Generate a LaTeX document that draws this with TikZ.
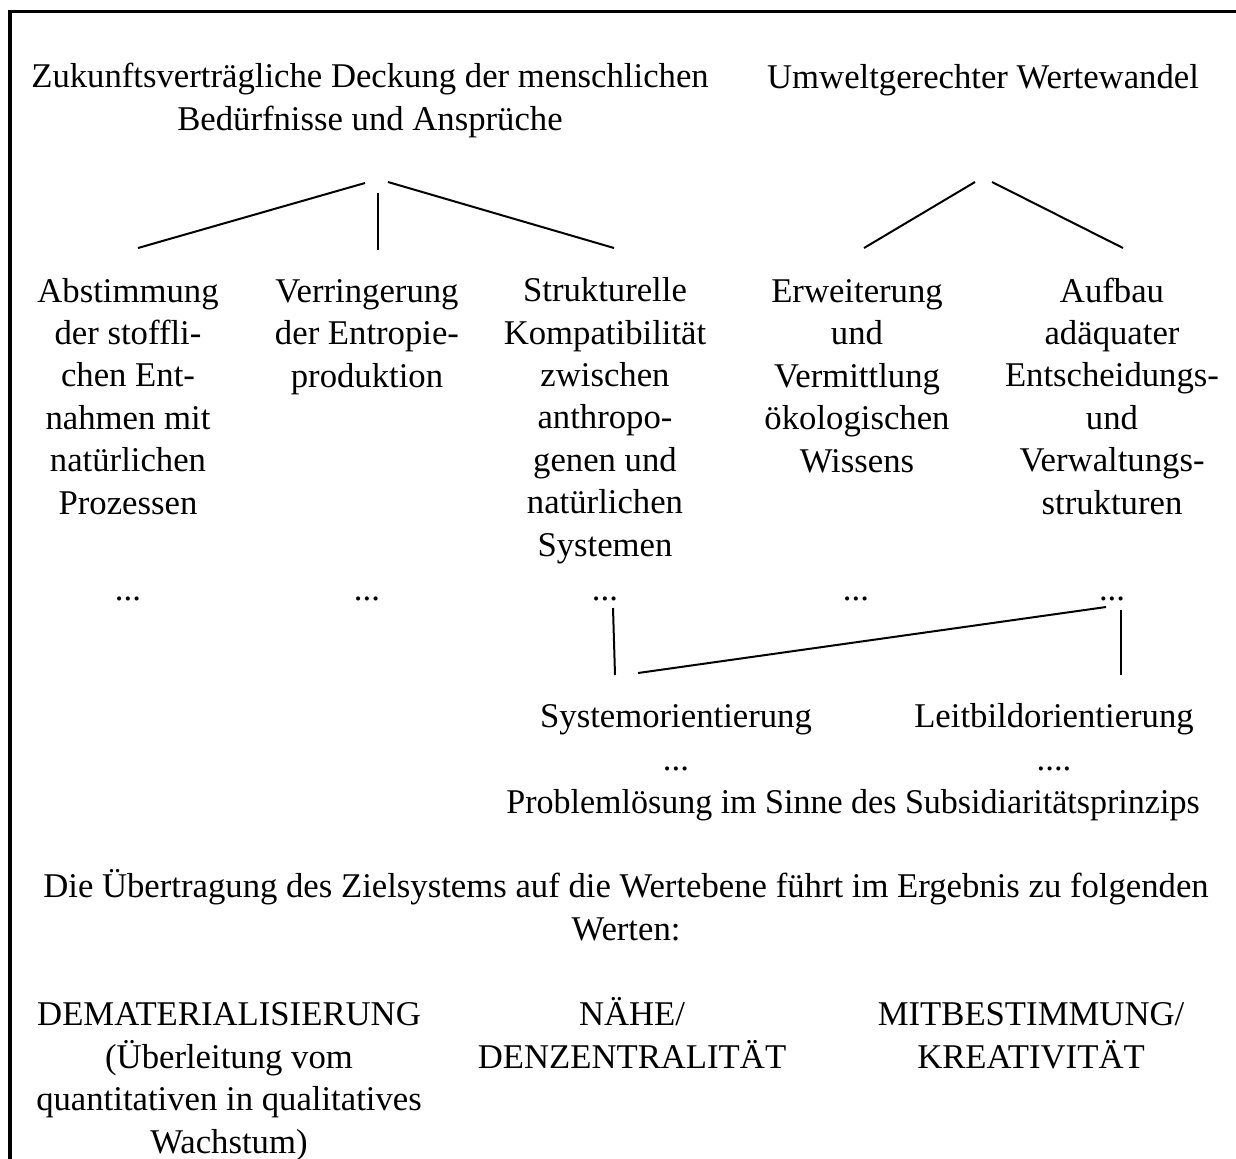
\documentclass[tikz,border=0pt]{standalone}
\usepackage{fontspec}
\setmainfont{Liberation Serif}
\begin{document}
\begin{tikzpicture}[x=0.5pt,y=-0.5pt,
  txt/.style={inner sep=0pt, outer sep=0pt, align=center, anchor=base,
    font=\fontsize{17.35pt}{21.2pt}\selectfont},
  conn/.style={line width=1pt},
  frame/.style={line width=1.7pt}]
\useasboundingbox (0,0) rectangle (1236,1158);
\draw[frame] (10,1160) -- (10,11.7) -- (1240,11.7);

% (node positions are given at the baseline of each node's last line)
% top level
\node[txt] (t1) at (370,130) {Zukunftsverträgliche Deckung der menschlichen\\Bedürfnisse und Ansprüche};
\node[txt] (t2) at (983,88) {Umweltgerechter Wertewandel};

% second level
\node[txt] (c1) at (128,514) {Abstimmung\\der stoffli-\\chen Ent-\\nahmen mit\\natürlichen\\Prozessen};
\node[txt] (c2) at (367,387) {Verringerung\\der Entropie-\\produktion};
\node[txt] (c3) at (605,556) {Strukturelle\\Kompatibilität\\zwischen\\anthropo-\\genen und\\natürlichen\\Systemen};
\node[txt] (c4) at (857,472) {Erweiterung\\und\\Vermittlung\\ökologischen\\Wissens};
\node[txt] (c5) at (1112,514) {Aufbau\\adäquater\\Entscheidungs-\\und\\Verwaltungs-\\strukturen};

% dots
\node[txt] (d1) at (128,600) {...};
\node[txt] (d2) at (367,600) {...};
\node[txt] (d3) at (605,600) {...};
\node[txt] (d4) at (856,600) {...};
\node[txt] (d5) at (1112,600) {...};

% orientation
\node[txt] (s1) at (676,770) {Systemorientierung\\...};
\node[txt] (s2) at (1054,770) {Leitbildorientierung\\....};
\node[txt, xscale=0.98] (p) at (853,813) {Problemlösung im Sinne des Subsidiaritätsprinzips};

\node[txt] (u) at (626,940) {Die Übertragung des Zielsystems auf die Wertebene führt im Ergebnis zu folgenden\\Werten:};

\node[txt] (w1) at (229,1153) {DEMATERIALISIERUNG\\(Überleitung vom\\quantitativen in qualitatives\\Wachstum)};
\node[txt] (w2) at (632,1068) {NÄHE/\\DENZENTRALITÄT};
\node[txt] (w3) at (1031,1068) {MITBESTIMMUNG/\\KREATIVITÄT};

% connector end points
\coordinate (t1a) at (365,183);
\coordinate (t1b) at (378,193);
\coordinate (t1c) at (388,182);
\coordinate (c1t) at (138,248);
\coordinate (c2t) at (378,250);
\coordinate (c3t) at (614,248);
\coordinate (t2a) at (975,182);
\coordinate (t2b) at (992,182);
\coordinate (c4t) at (864,248);
\coordinate (c5t) at (1123,248);
\coordinate (d3b) at (613,608);
\coordinate (s1t) at (615,675);
\coordinate (s1r) at (638,673);
\coordinate (d5l) at (1106,607);
\coordinate (d5b) at (1121,610);
\coordinate (s2t) at (1121,675);

\draw[conn] (t1a) -- (c1t);
\draw[conn] (t1b) -- (c2t);
\draw[conn] (t1c) -- (c3t);
\draw[conn] (t2a) -- (c4t);
\draw[conn] (t2b) -- (c5t);
\draw[conn] (d3b) -- (s1t);
\draw[conn] (s1r) -- (d5l);
\draw[conn] (d5b) -- (s2t);
\end{tikzpicture}
\end{document}
